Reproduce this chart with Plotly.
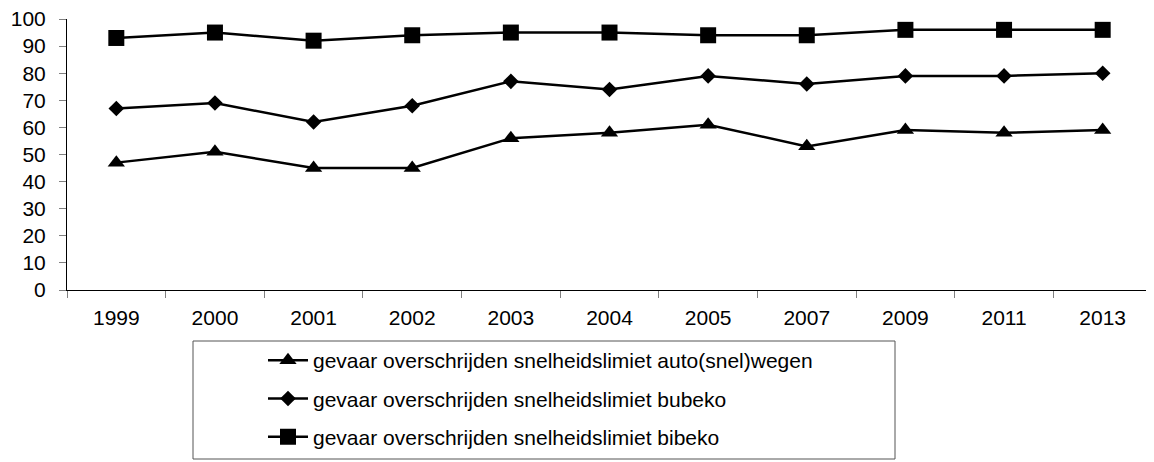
import plotly.graph_objects as go

years = ["1999", "2000", "2001", "2002", "2003", "2004", "2005", "2007", "2009", "2011", "2013"]
auto_snelwegen = [47, 51, 45, 45, 56, 58, 61, 53, 59, 58, 59]
bubeko = [67, 69, 62, 68, 77, 74, 79, 76, 79, 79, 80]
bibeko = [93, 95, 92, 94, 95, 95, 94, 94, 96, 96, 96]
names = [
    "gevaar overschrijden snelheidslimiet auto(snel)wegen",
    "gevaar overschrijden snelheidslimiet bubeko",
    "gevaar overschrijden snelheidslimiet bibeko",
]
symbols = ["triangle-up", "diamond", "square"]
sizes = [15, 12, 16]

fig = go.Figure()
for i, (vals, nm) in enumerate(zip([auto_snelwegen, bubeko, bibeko], names)):
    fig.add_trace(go.Scatter(
        x=years, y=vals, name=nm, mode="lines+markers",
        line=dict(color="black", width=2.5),
        marker=dict(symbol=symbols[i], size=sizes[i], color="black"),
        legendgroup=str(i),
    ))

# page has an 8px body margin; figure coordinates = page coordinates - 8
OFF = 8
FW, FH = 1154 - OFF, 462 - OFF
L, T = 67 - OFF, 19 - OFF
R = FW - (1152 - OFF)
B = FH - (290 - OFF)

fig.update_layout(
    width=FW, height=FH,
    margin=dict(l=L, r=R, t=T, b=B, autoexpand=False),
    paper_bgcolor="white", plot_bgcolor="white",
    font=dict(family="Liberation Sans, Arial", color="black"),
    showlegend=True,
    legend=dict(
        xref="container", yref="container",
        x=(263 - OFF) / FW, y=1 - (340 - OFF) / FH, xanchor="left", yanchor="top",
        font=dict(size=21, color="black"),
        traceorder="grouped", tracegroupgap=8,
        bgcolor="rgba(0,0,0,0)", borderwidth=0,
        itemwidth=40,
    ),
    xaxis=dict(
        type="category", range=[-0.5, len(years) - 0.5],
        showline=True, linecolor="black", linewidth=1,
        ticks="outside", tickson="boundaries", ticklen=7, tickcolor="gray",
        tickfont=dict(size=21), showgrid=False, zeroline=False,
        ticklabelstandoff=9, automargin=False, ticklabeloverflow="allow",
    ),
    yaxis=dict(
        range=[0, 100], dtick=10, showline=True, linecolor="black", linewidth=1,
        ticks="outside", ticklen=7, tickcolor="gray", tickfont=dict(size=21),
        showgrid=False, zeroline=False, ticklabelstandoff=9, automargin=False,
        ticklabeloverflow="allow",
    ),
)

# legend box frame (page pixels -> paper coords)
W, H = FW - L - R, FH - T - B
def px(x): return (x - OFF - L) / W
def py(y): return (FH - B - (y - OFF)) / H
fig.add_shape(type="rect", xref="paper", yref="paper",
              x0=px(193), x1=px(895), y0=py(341), y1=py(459),
              line=dict(color="#555555", width=1), fillcolor="rgba(0,0,0,0)")

fig.write_html("out.html")
